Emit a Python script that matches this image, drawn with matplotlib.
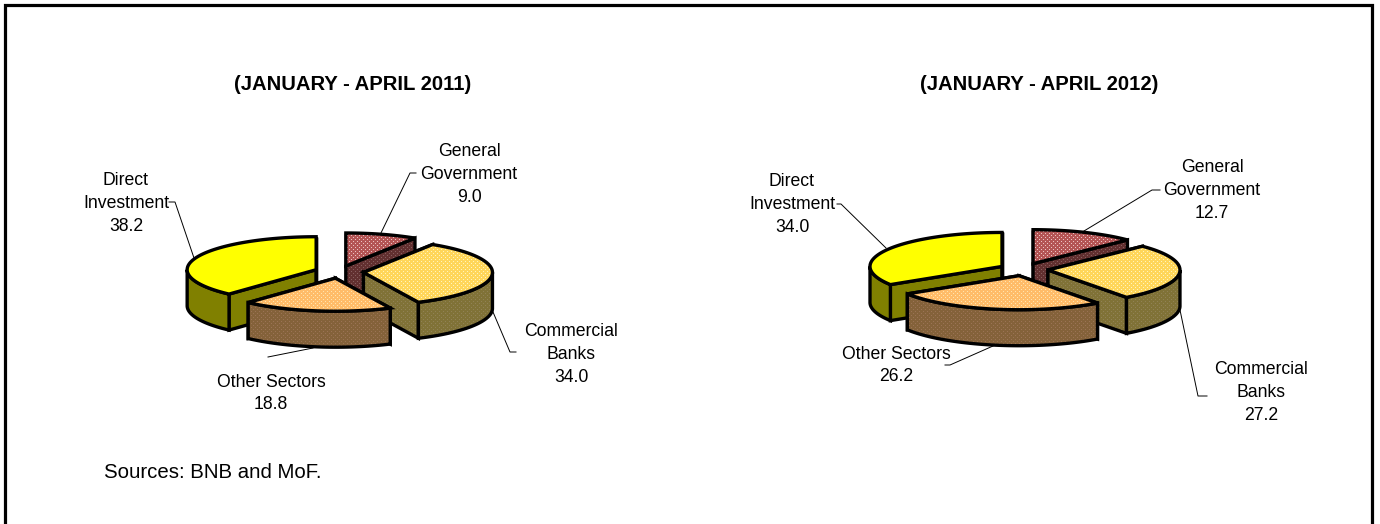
import numpy as np
import matplotlib
matplotlib.use("Agg")
import matplotlib.pyplot as plt
from matplotlib.patches import Polygon

plt.rcParams['font.family'] = ['Liberation Sans', 'DejaVu Sans']

# clockwise from 12 o'clock
names = ["General\nGovernment", "Commercial\nBanks", "Other Sectors", "Direct\nInvestment"]
values_2011 = [9.0, 34.0, 18.8, 38.2]
values_2012 = [12.7, 27.2, 26.2, 34.0]
title_2011 = "(JANUARY - APRIL 2011)"
title_2012 = "(JANUARY - APRIL 2012)"
source = "Sources: BNB and MoF."

# (base, dot) colours for top and wall of each slice
top_cols = [((180, 85, 85), (235, 195, 195)), ((255, 214, 90), (255, 245, 190)),
            ((255, 188, 105), (255, 228, 175)), ((255, 255, 0), (255, 255, 0))]
wall_cols = [((98, 48, 48), (135, 95, 95)), ((128, 114, 55), (145, 130, 85)),
             ((132, 98, 58), (155, 115, 85)), ((128, 128, 0), (128, 128, 0))]
W, H = 1380, 524

fig = plt.figure(figsize=(W / 100, H / 100), dpi=100)
ax = fig.add_axes([0, 0, 1, 1])
ax.axis("off")


def dither(base, dot):
    tile = np.array([[base, base, base, base],
                     [base, dot, base, base],
                     [base, base, base, base],
                     [base, base, base, dot]], dtype=np.uint8)
    return np.tile(tile, (H // 4 + 1, W // 4 + 1, 1))[:H, :W]


def face(pts, cols, zo):
    p = Polygon(pts, closed=True, fc="none", ec="black", lw=2.4, joinstyle="miter", zorder=zo + 0.5)
    ax.add_patch(p)
    im = ax.imshow(dither(*cols), extent=(0, W, H, 0), interpolation="nearest", zorder=zo, aspect="auto")
    clip = Polygon(pts, closed=True, transform=ax.transData)
    im.set_clip_path(clip)


def draw_pie(values, cx, cy, a, b, depth, explode, zo=2):
    total = sum(values)
    # draw order: back slice first, the front slice last
    for i in [0, 3, 1, 2]:
        start = 360 * sum(values[:i]) / total
        end = start + 360 * values[i] / total
        mid = np.radians((start + end) / 2)
        ox = cx + explode * a * np.sin(mid)
        oy = cy - explode * b * np.cos(mid)

        def arc(t0, t1):
            t = np.radians(np.linspace(t0, t1, 80))
            return np.column_stack([ox + a * np.sin(t), oy - b * np.cos(t)])

        rim = arc(start, end)
        apex = np.array([[ox, oy]])
        down = np.array([0, depth])
        for edge in (rim[0], rim[-1]):
            quad = np.vstack([apex, [edge], [edge + down], apex + down])
            face(quad, wall_cols[i], zo)
            zo += 1
        lo, hi = max(start, 90), min(end, 270)
        if hi > lo:
            front = arc(lo, hi)
            face(np.vstack([front, (front + down)[::-1]]), wall_cols[i], zo)
            zo += 1
        face(np.vstack([apex, rim]), top_cols[i], zo)
        zo += 1
    return zo


zo = draw_pie(values_2011, 339, 272, 129, 33, 36, 0.19)
draw_pie(values_2012, 1023.5, 269.5, 132, 34, 36, 0.186, zo)

# leader lines
leaders = [
    ([380, 410, 416], [235, 173, 173]),
    ([194, 175, 169], [258, 202, 202]),
    ([493, 510, 516], [312, 352, 352]),
    ([313, 268], [348, 357]),
    ([1084, 1152, 1160], [231, 190, 190]),
    ([886, 841, 837], [248, 204, 204]),
    ([1180, 1198, 1207], [310, 396, 396]),
    ([993, 950, 945], [346, 365, 365]),
]
for xs, ys in leaders:
    ax.plot(xs, ys, color="black", lw=0.7, zorder=1)


def label(x, y, name, val):
    ax.text(x, y, name + "\n" + "%.1f" % val, ha="center", va="center", fontsize=12.7,
            linespacing=1.44, zorder=100)


label(469, 174.5, names[0], values_2011[0])
label(571, 354.5, names[1], values_2011[1])
label(271, 393.5, names[2], values_2011[2])
label(126, 203.5, names[3], values_2011[3])
label(1212, 190.5, names[0], values_2012[0])
label(1261, 392.5, names[1], values_2012[1])
label(896, 365.5, names[2], values_2012[2])
label(792, 204.5, names[3], values_2012[3])

ax.text(353, 84, title_2011, ha="center", va="center", fontsize=14.6, fontweight="bold")
ax.text(1039, 84, title_2012, ha="center", va="center", fontsize=14.6, fontweight="bold")
ax.text(104, 473, source, ha="left", va="center", fontsize=14.7)

ax.plot([4.5, 4.5, 1371.5, 1371.5], [H + 5, 4.5, 4.5, H + 5], color="black", lw=2.3,
        solid_joinstyle="miter", zorder=200)

ax.set_xlim(0, W)
ax.set_ylim(H, 0)
fig.savefig("out.png", dpi=100)
